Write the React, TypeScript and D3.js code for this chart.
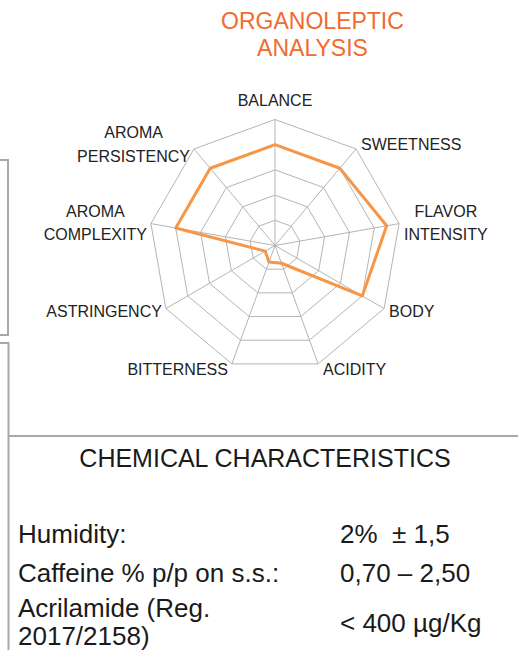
import React from 'react';
import * as d3 from 'd3';

// radar axes, clockwise from the top
const axes = ['BALANCE', 'SWEETNESS', 'FLAVOR\nINTENSITY', 'BODY', 'ACIDITY', 'BITTERNESS', 'ASTRINGENCY', 'AROMA\nCOMPLEXITY', 'AROMA\nPERSISTENCY'];
const scores = [8, 8, 9, 8, 1.5, 1.4, 0.9, 8, 8];
const rings = [2, 4, 6, 8, 10];

const chemLabels = [['Humidity:'], ['Caffeine % p/p on s.s.:'], ['Acrilamide (Reg.', '2017/2158)']];
const chemValues = ['2%  \u00b1 1,5', '0,70 \u2013 2,50', '< 400 \u00b5g/Kg'];

const W = 518, H = 650;
const cx = 275, cy = 245.5, R = 126;
const labelFont = '"Liberation Sans", Arial, sans-serif';

// width of a label line, so multi-line labels can be centred as a block
const ctx = document.createElement('canvas').getContext('2d');
function textW(s: string) {
  if (!ctx) return s.length * 10;
  ctx.font = '16px "Liberation Sans"';
  return ctx.measureText(s).width;
}

function Radar() {
  const r = d3.scaleLinear().domain([0, 10]).range([0, R]);
  const angle = d3.scaleLinear().domain([0, axes.length]).range([0, 2 * Math.PI]);

  const ringLine = d3.lineRadial<number>()
    .angle((d, i) => angle(i))
    .radius(d => r(d))
    .curve(d3.curveLinearClosed);

  const dataPath = ringLine(scores);

  const labels = axes.map((name, i) => {
    const a = angle(i);
    const vx = cx + r(10) * Math.sin(a);
    const vy = cy - r(10) * Math.cos(a);
    const s = Math.sin(a), c = Math.cos(a);
    const lines = name.split('\n');
    const maxW = d3.max(lines, textW) || 0;
    let x = vx, mid = vy - c * 6;
    if (s > 0.1) x = vx + 5 + maxW / 2;
    else if (s < -0.1) x = vx - 4 - maxW / 2;
    else mid = vy - 19;
    return (
      <text key={name} x={x} textAnchor="middle" fontSize={16} fill="#222" fontFamily={labelFont}>
        {lines.map((l, k) => (
          <tspan key={k} x={x} y={mid + 5.7 + (k - (lines.length - 1) / 2) * 23.5}>{l}</tspan>
        ))}
      </text>
    );
  });

  return (
    <g>
      <g transform={`translate(${cx},${cy})`} fill="none" stroke="#b5b5b5" strokeWidth={1}>
        {rings.map(v => (
          <path key={v} d={ringLine(axes.map(() => v)) || ''} />
        ))}
        {axes.map((n, i) => (
          <line key={n} x1={0} y1={0}
            x2={r(10) * Math.sin(angle(i))} y2={-r(10) * Math.cos(angle(i))} />
        ))}
        <path d={dataPath || ''} stroke="#f79646" strokeWidth={3} strokeLinejoin="round" />
      </g>
      {labels}
    </g>
  );
}

export default function App() {
  const rowBase = [543, 582, 617];
  const valueBase = [543, 582, 632];
  const body = '"Liberation Sans", Arial, Helvetica, sans-serif';
  return (
    <svg width={W} height={H} style={{ position: 'absolute', left: 0, top: 0, background: '#fff' }}>
      <g fill="#f26a2e" fontFamily={body} fontSize={23} textAnchor="middle">
        <text x={312.5} y={29}>ORGANOLEPTIC</text>
        <text x={312.5} y={56}>ANALYSIS</text>
      </g>

      <g stroke="#aca7a7" strokeWidth={2} fill="none">
        <polyline points="0,160 8,160 8,335 0,335" />
        <polyline points="0,343 8.5,343 8.5,650" />
        <line x1={8.5} y1={436} x2={W} y2={436} />
      </g>

      <Radar />

      <text x={265} y={467} textAnchor="middle" fontFamily={body} fontSize={25} fill="#1a1a1a">
        CHEMICAL CHARACTERISTICS
      </text>

      <g fontFamily={body} fontSize={26} fill="#1a1a1a">
        {chemLabels.map((lines, i) => (
          <text key={i} x={18}>
            {lines.map((l, k) => (
              <tspan key={k} x={18} y={rowBase[i] + k * 28}>{l}</tspan>
            ))}
          </text>
        ))}
        {chemValues.map((v, i) => (
          <text key={v} x={340} y={valueBase[i]} style={{ whiteSpace: 'pre' }}>{v}</text>
        ))}
      </g>
    </svg>
  );
}
